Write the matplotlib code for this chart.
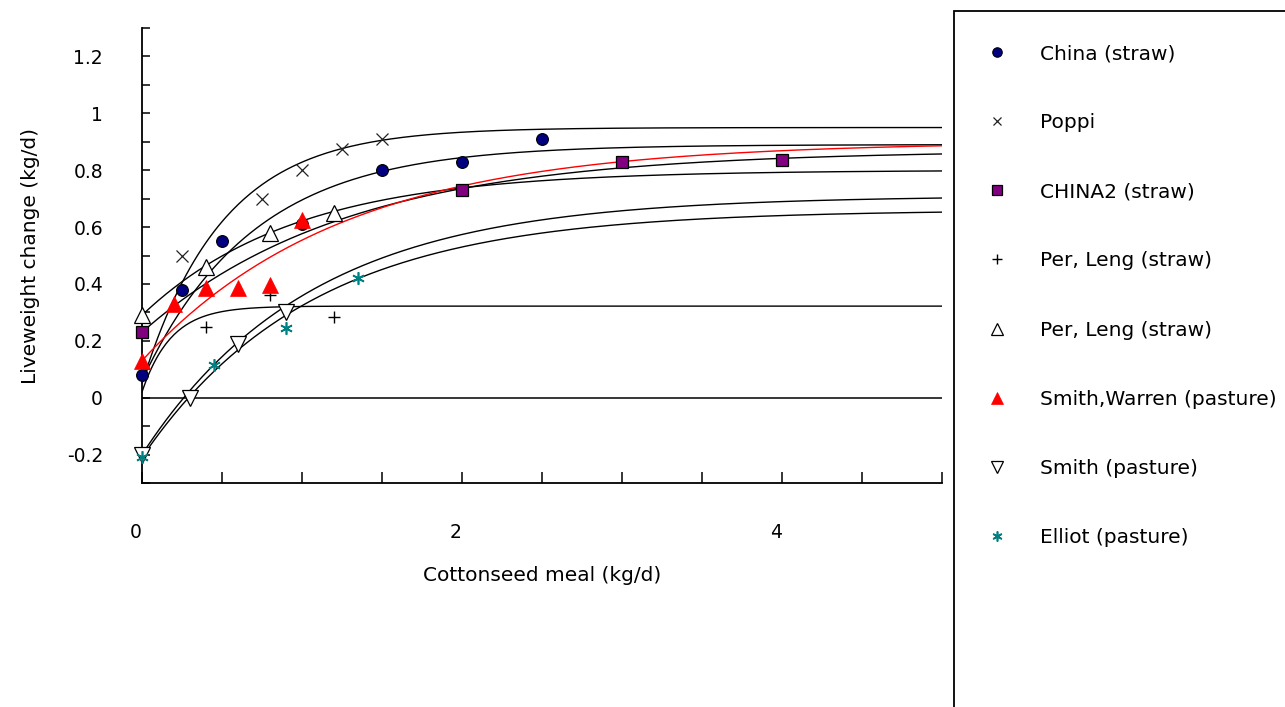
import numpy as np
import matplotlib
matplotlib.use('Agg')
import matplotlib.pyplot as plt
from matplotlib.patches import Rectangle
from matplotlib.transforms import ScaledTranslation

plt.rcParams['font.family'] = ['DejaVu Sans']

# measured points
china_x = [0, 0.25, 0.5, 1.0, 1.5, 2.0, 2.5]
china_y = [0.08, 0.38, 0.55, 0.61, 0.80, 0.83, 0.91]
poppi_x = [0.25, 0.75, 1.0, 1.25, 1.5]
poppi_y = [0.50, 0.70, 0.80, 0.875, 0.91]
china2_x = [0, 2, 3, 4]
china2_y = [0.23, 0.73, 0.83, 0.835]
plus_x = [0.4, 0.8, 1.2]
plus_y = [0.25, 0.36, 0.285]
tri_x = [0, 0.4, 0.8, 1.2]
tri_y = [0.29, 0.46, 0.58, 0.65]
warren_x = [0, 0.2, 0.4, 0.6, 0.8, 1.0]
warren_y = [0.13, 0.33, 0.385, 0.385, 0.395, 0.625]
smith_x = [0, 0.3, 0.6, 0.9]
smith_y = [-0.2, 0.0, 0.19, 0.30]
elliot_x = [0, 0.45, 0.9, 1.35]
elliot_y = [-0.21, 0.115, 0.245, 0.42]

labels = ['China (straw)', 'Poppi', 'CHINA2 (straw)', 'Per, Leng (straw)',
          'Per, Leng (straw)', 'Smith,Warren (pasture)', 'Smith (pasture)',
          'Elliot (pasture)']

# fitted response curves: start value, plateau, rate
fit_start = [0.06, 0.05, 0.23, 0.02, 0.29, 0.13, -0.20, -0.21]
fit_top = [0.89, 0.95, 0.87, 0.322, 0.80, 0.90, 0.71, 0.66]
fit_rate = [1.45, 2.0, 0.78, 5.5, 1.05, 0.80, 0.95, 0.95]
fit_color = ['k', 'k', 'k', 'k', 'k', 'red', 'k', 'k']

ytick_vals = [-0.2, 0, 0.2, 0.4, 0.6, 0.8, 1.0, 1.2]
ytick_labels = ['-0.2', '0', '0.2', '0.4', '0.6', '0.8', '1', '1.2']
xtick_vals = [0, 2, 4]
xtick_labels = ['0', '2', '4']

fig = plt.figure(figsize=(12.85, 7.07), dpi=100)
ax = fig.add_axes([142/1285, 1-483/707, 800/1285, 455/707])

xs = np.linspace(0, 5, 400)
for y0, top, k, c in zip(fit_start, fit_top, fit_rate, fit_color):
    ax.plot(xs, top - (top - y0)*np.exp(-k*xs), color=c, lw=1.0, zorder=2)
ax.axhline(0, color='k', lw=1.1, zorder=2)

fs = 14.5
handles = []
h, = ax.plot(china_x, china_y, 'o', ms=8.5, mfc='#000080', mec='k', mew=0.8)
handles.append(h)
h, = ax.plot(poppi_x, poppi_y, 'x', ms=8, color='#222222', mew=0.9)
handles.append(h)
h, = ax.plot(china2_x, china2_y, 's', ms=8.5, mfc='#800080', mec='k', mew=0.9)
handles.append(h)
h, = ax.plot(plus_x, plus_y, '+', ms=9, color='k', mew=1.0)
handles.append(h)
h, = ax.plot(tri_x, tri_y, '^', ms=11, mfc='white', mec='k', mew=0.9)
handles.append(h)
h, = ax.plot(warren_x, warren_y, '^', ms=11, mfc='red', mec='red', mew=0.5)
handles.append(h)
h, = ax.plot(smith_x, smith_y, 'v', ms=11, mfc='white', mec='k', mew=0.9)
handles.append(h)
h, = ax.plot(elliot_x, elliot_y, ls='none', marker=(6, 2, 0), ms=9, color='#008080', mew=1.2)
handles.append(h)
for h in handles:
    h.set_zorder(3)
    h.set_clip_on(False)

ax.set_xlim(0, 5)
ax.set_ylim(-0.3, 1.3)
ax.set_xticks(xtick_vals)
ax.set_xticklabels(xtick_labels)
ax.set_xticks(np.arange(0, 5.01, 0.5), minor=True)
ax.set_yticks(ytick_vals)
ax.set_yticklabels(ytick_labels)
ax.set_yticks(np.arange(-0.3, 1.31, 0.1), minor=True)
ax.tick_params(which='both', direction='in', length=6, width=1.1, labelsize=13.5, colors='k')
ax.tick_params(axis='y', which='both', pad=28)
ax.tick_params(axis='x', which='both', pad=29, length=8)
for s in ['top', 'right']:
    ax.spines[s].set_visible(False)
for s in ['left', 'bottom']:
    ax.spines[s].set_linewidth(1.3)

# the x labels sit a little left of their ticks in the original
shift = ScaledTranslation(-6/100, 0, fig.dpi_scale_trans)
for lab in ax.get_xticklabels():
    lab.set_transform(lab.get_transform() + shift)

ax.set_xlabel('Cottonseed meal (kg/d)', fontsize=fs)
ax.set_ylabel('Liveweight change (kg/d)', fontsize=fs)
ax.xaxis.set_label_coords(0.5, (483-566)/455)
ax.yaxis.set_label_coords((40-142)/800, 0.5)

# legend panel
fig.patches.append(Rectangle((954/1285, -0.05), 0.3, 1.05 - 11/707, transform=fig.transFigure,
                             fill=False, ec='k', lw=1.3))
fig.legend(handles, labels, loc='upper left', bbox_to_anchor=(977/1285, 1-44/707),
           frameon=False, fontsize=fs, markerscale=0.8, handlelength=2.0,
           handletextpad=1.14, labelspacing=2.49, borderpad=0, borderaxespad=0)

fig.savefig('out.png', dpi=100)
